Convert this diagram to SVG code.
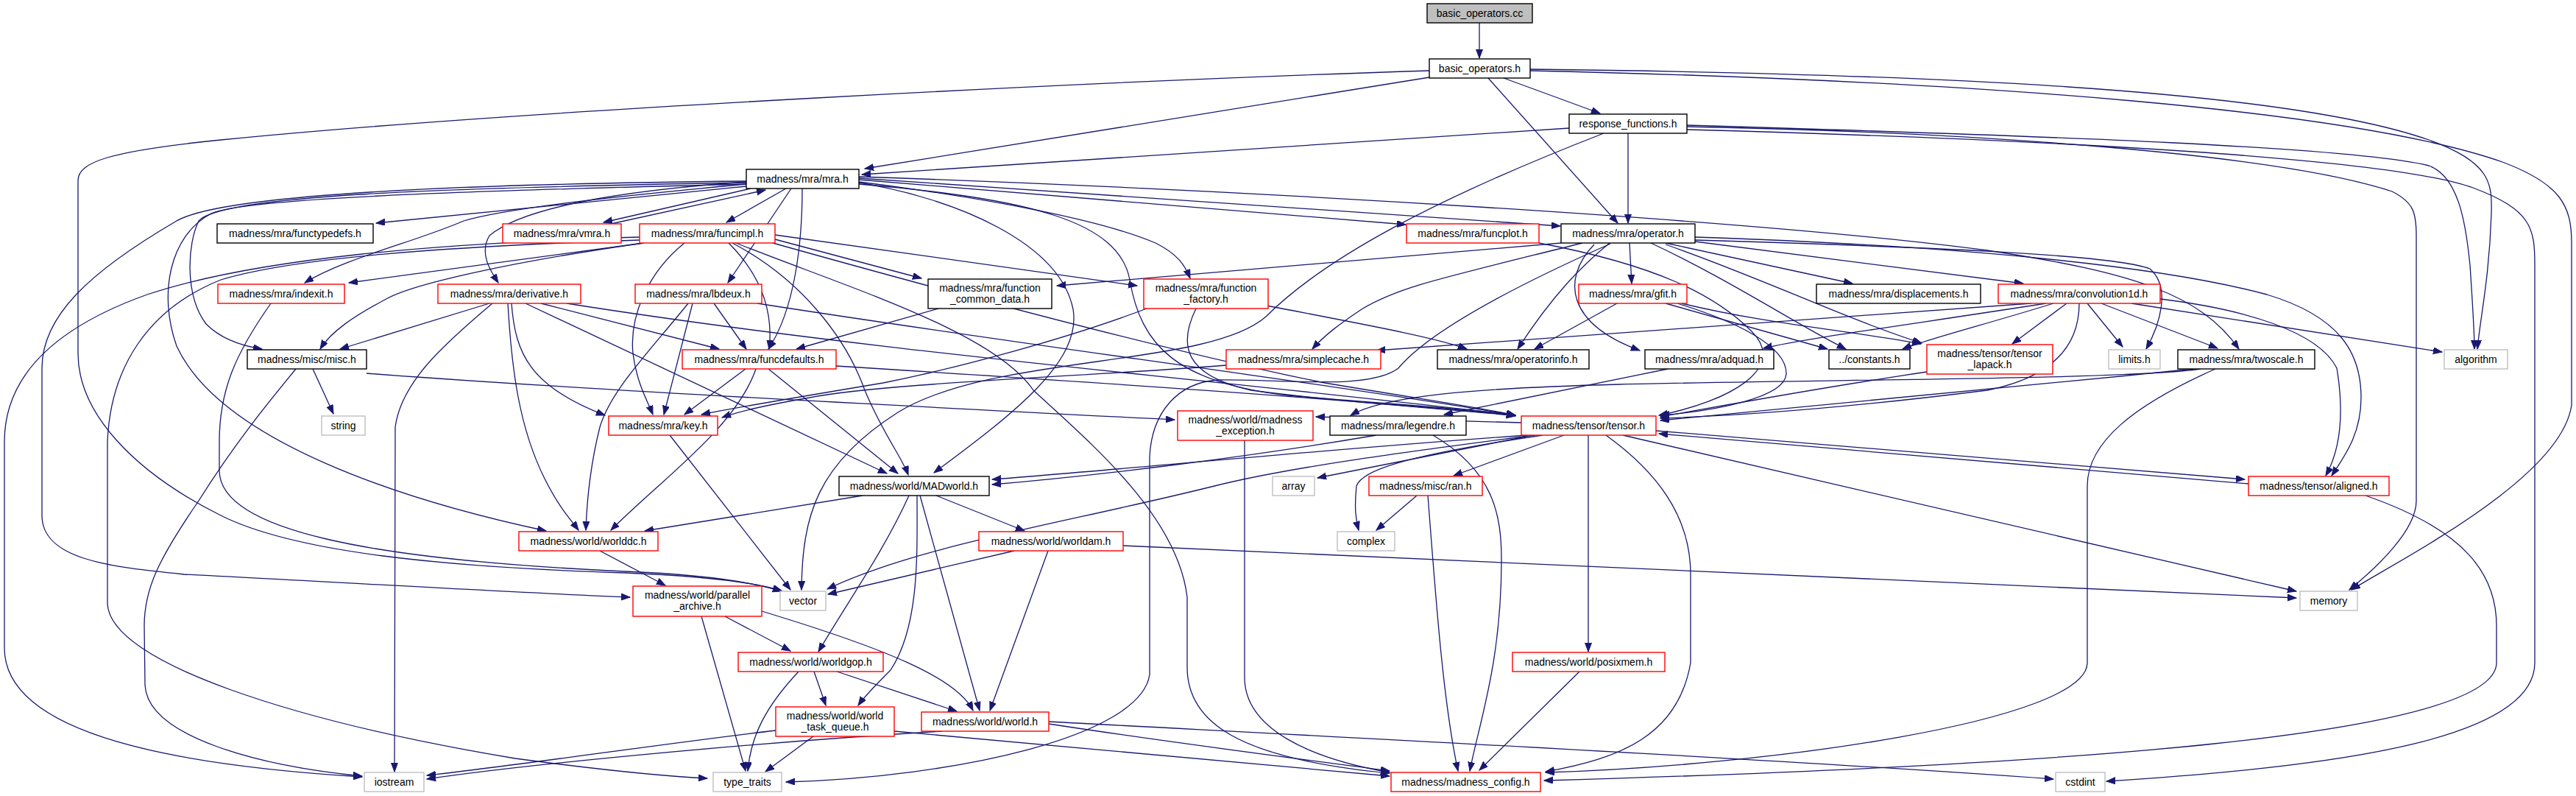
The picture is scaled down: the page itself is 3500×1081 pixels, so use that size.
<svg xmlns="http://www.w3.org/2000/svg" width="3500" height="1081" viewBox="0 0 3500 1081">
<style>
.n rect{fill:#fff;stroke:#000;stroke-width:1.4}
.r rect{fill:#fff;stroke:#ff0000;stroke-width:1.4}
.g rect{fill:#fff;stroke:#bfbfbf;stroke-width:1.4}
.root rect{fill:#bfbfbf;stroke:#000;stroke-width:1.4}
text{font-family:"Liberation Sans",Arial,sans-serif;font-size:14px;text-anchor:middle;fill:#000}
#edges path{fill:none;stroke:#191970;stroke-width:1.3;marker-end:url(#a)}
</style>
<defs>
<marker id="a" markerUnits="userSpaceOnUse" markerWidth="13" markerHeight="10" refX="12" refY="4.5" orient="auto"><path d="M0,0 L12,4.5 L0,9 z" fill="#191970" stroke="#191970" stroke-width="1"/></marker>
</defs>
<rect width="3500" height="1081" fill="#fff"/>
<g id="edges">
<path d="M2010,31 L2010,79"/>
<path d="M1942,105 L1175,229"/>
<path d="M2043,106 L2174,154"/>
<path d="M2022,106 L2198,303"/>
<path d="M1942,96 C1500,110 700,150 300,190 C150,205 106,220 106,245 L106,480 C106,560 180,640 300,700 C400,750 600,770 850,778 C950,782 1020,790 1062,802"/>
<path d="M2079,94 C2600,100 3100,120 3300,190 C3385,220 3386,250 3385,290 C3382,380 3370,430 3366,474"/>
<path d="M2079,96 C2700,110 3200,150 3400,220 C3480,250 3494,280 3494,330 L3494,550 C3480,650 3260,760 3195,801"/>
<path d="M2132,174 L1171,237"/>
<path d="M2212,181 L2212,303"/>
<path d="M2179,181 C1950,270 1800,350 1720,430 C1640,500 1350,480 1220,560 C1110,630 1090,700 1089,801"/>
<path d="M2292,172 C2700,180 3100,210 3250,260 C3280,275 3283,290 3283,320 L3283,680 C3283,720 3230,770 3192,801"/>
<path d="M2292,170 C2800,185 3200,200 3300,225 C3340,240 3350,300 3356,360 C3360,420 3362,450 3362,474"/>
<path d="M2292,176 C2800,190 3250,215 3360,255 C3440,285 3444,310 3444,360 L3444,900 C3444,1000 3200,1040 2862,1061"/>
<path d="M1014,253 L511,303"/>
<path d="M1020,256 L820,302"/>
<path d="M830,304 L1040,258"/>
<path d="M1068,256 L987,302"/>
<path d="M1014,250 C800,270 680,285 630,300 C560,330 470,350 414,384"/>
<path d="M1014,247 C800,262 700,290 665,320 C650,345 668,370 677,384"/>
<path d="M1075,256 L989,384"/>
<path d="M1014,248 C600,255 300,265 270,300 C255,330 250,400 280,440 C300,460 330,470 356,474"/>
<path d="M1090,256 C1090,330 1080,420 1044,474"/>
<path d="M1167,247 C1350,270 1500,300 1570,330 C1600,345 1610,360 1617,378"/>
<path d="M1167,244 L1910,305"/>
<path d="M1167,242 L2120,307"/>
<path d="M1167,240 C1700,258 2400,300 2700,340 C2900,370 2990,400 3042,474"/>
<path d="M1167,248 C1300,270 1440,330 1458,420 C1470,490 1380,560 1269,642"/>
<path d="M1014,250 C600,260 330,270 287,290 C230,320 215,400 240,470 C300,600 550,680 742,721"/>
<path d="M1014,246 C600,250 300,265 240,300 C120,370 57,430 57,500 L57,700 C57,760 150,770 250,780 C450,790 700,805 856,811"/>
<path d="M1167,250 C1400,270 1520,300 1535,380 C1550,470 1600,520 1750,537 C1900,550 2000,555 2059,564"/>
<path d="M2990,501 C2900,515 2500,515 2200,522 C2000,527 1880,538 1835,564"/>
<path d="M2266,501 L1962,563"/>
<path d="M2980,501 C2700,530 2400,555 2256,571"/>
<path d="M3010,501 C2900,550 2836,600 2836,660 L2836,900 C2836,980 2400,1040 2100,1049"/>
<path d="M2825,412 C2825,460 2800,510 2700,530 C2500,555 2350,565 2256,568"/>
<path d="M2618,505 C2450,530 2320,555 2256,566"/>
<path d="M3055,657 L2254,589"/>
<path d="M2250,585 L3050,651"/>
<path d="M2279,412 C2360,437 2427,470 2427,507 C2427,540 2330,558 2256,564"/>
<path d="M2197,412 L2085,474"/>
<path d="M2263,412 L2483,474"/>
<path d="M2285,412 C2400,440 2520,450 2610,467"/>
<path d="M2214,330 L2217,385"/>
<path d="M2263,330 L2517,385"/>
<path d="M2303,328 L2749,385"/>
<path d="M2121,330 L1436,388"/>
<path d="M2150,330 C1950,380 1900,390 1850,420 C1820,440 1800,455 1783,474"/>
<path d="M2187,330 C2150,360 2110,400 2062,474"/>
<path d="M2166,332 C2120,380 2130,440 2228,476"/>
<path d="M2243,330 C2350,380 2440,440 2508,474"/>
<path d="M2263,332 C2400,380 2500,430 2611,466"/>
<path d="M2303,326 C2600,335 2870,345 2921,365 C2950,390 2935,440 2916,474"/>
<path d="M2303,322 C2700,335 2950,365 3080,400 C3180,430 3208,480 3208,540 C3208,590 3185,620 3168,646"/>
<path d="M2935,406 C3050,420 3150,450 3175,500 C3185,560 3180,610 3160,646"/>
<path d="M2760,412 L1870,476"/>
<path d="M2780,412 C2600,440 2450,460 2396,473"/>
<path d="M2790,412 C2700,440 2620,460 2585,474"/>
<path d="M2808,412 L2734,467"/>
<path d="M2836,412 L2884,471"/>
<path d="M2855,412 L3013,473"/>
<path d="M2896,412 L3318,478"/>
<path d="M1275,419 L1082,474"/>
<path d="M1721,415 C1850,440 1950,458 1993,474"/>
<path d="M2091,330 C2250,360 2330,400 2380,450 C2430,500 2350,545 2254,564"/>
<path d="M970,412 L1014,474"/>
<path d="M941,412 L902,563"/>
<path d="M935,412 C880,480 830,530 815,580 C800,640 797,690 796,720"/>
<path d="M1029,412 C1400,470 1800,520 2059,564"/>
<path d="M875,330 L474,384"/>
<path d="M874,330 C700,355 560,385 523,407 C480,430 450,450 435,474"/>
<path d="M869,322 C600,330 350,350 200,400 C60,450 6,520 6,600 L6,880 C6,1000 250,1040 492,1055"/>
<path d="M869,326 C600,335 400,350 300,380 C200,420 150,500 146,600 L146,820 C150,900 400,980 700,1030 C850,1050 920,1055 961,1057"/>
<path d="M1053,325 L1252,378"/>
<path d="M1053,319 L1545,388"/>
<path d="M990,330 C1040,380 1050,430 1045,474"/>
<path d="M995,330 C1090,380 1150,460 1175,530 C1200,590 1225,620 1234,645"/>
<path d="M930,330 C880,370 855,430 860,480 C865,520 880,545 887,563"/>
<path d="M1050,330 C1300,400 1600,480 1800,520 C1950,545 2020,555 2059,564"/>
<path d="M1000,330 C1150,390 1350,450 1404,530 C1480,600 1600,700 1613,811 L1613,906 C1613,980 1680,1030 1888,1050"/>
<path d="M2188,331 C2100,370 1950,440 1900,500 C1860,530 1750,515 1654,516 C1600,520 1565,560 1562,620 L1562,916 C1550,1000 1300,1055 1068,1062"/>
<path d="M665,412 L462,474"/>
<path d="M669,412 C600,470 545,520 537,580 L536,1048"/>
<path d="M690,412 C695,500 705,580 740,650 C760,690 775,705 786,720"/>
<path d="M695,412 C700,480 720,525 822,564"/>
<path d="M714,412 L1205,643"/>
<path d="M735,412 L977,474"/>
<path d="M770,412 C1200,480 1700,520 2059,564"/>
<path d="M1013,501 L930,563"/>
<path d="M1044,501 L1220,643"/>
<path d="M1027,501 C1000,580 900,650 830,720"/>
<path d="M1136,497 C1500,520 1800,540 2059,564"/>
<path d="M425,501 L453,562"/>
<path d="M402,501 C370,540 320,600 270,680 C215,760 196,800 196,850 L197,930 C200,1000 350,1040 492,1054"/>
<path d="M498,507 C800,530 1300,555 1596,570"/>
<path d="M368,412 C320,480 298,530 298,600 L298,640 C300,720 500,760 850,776 C950,780 1020,790 1062,803"/>
<path d="M910,591 L1074,801"/>
<path d="M2085,591 C1900,615 1750,635 1650,660 C1450,710 1250,740 1124,800"/>
<path d="M2075,591 C1800,610 1500,640 1348,651"/>
<path d="M1870,591 C1700,620 1500,645 1348,658"/>
<path d="M2073,593 L1790,649"/>
<path d="M2096,591 C1900,620 1850,640 1843,660 C1840,690 1842,705 1846,720"/>
<path d="M2125,591 L1975,646"/>
<path d="M2158,591 L2158,885"/>
<path d="M2182,591 C2250,640 2297,700 2297,780 L2297,900 C2280,1000 2200,1030 2100,1048"/>
<path d="M2205,591 L3120,803"/>
<path d="M2067,574 L1788,566"/>
<path d="M1925,673 L1870,720"/>
<path d="M1940,673 C1950,800 1960,950 1981,1047"/>
<path d="M1947,591 C2030,640 2040,700 2040,760 C2040,900 2010,980 1997,1047"/>
<path d="M2146,912 L2010,1046"/>
<path d="M1691,598 L1691,920 C1691,990 1780,1030 1888,1049"/>
<path d="M3214,673 C3350,720 3392,780 3392,850 L3392,900 C3392,1000 2800,1040 2098,1060"/>
<path d="M1425,983 C1600,1010 1800,1035 1888,1047"/>
<path d="M1425,980 C1800,1000 2400,1030 2790,1058"/>
<path d="M1280,993 C1000,1010 700,1040 580,1058"/>
<path d="M1054,992 C900,1010 700,1040 580,1053"/>
<path d="M1105,1000 L1040,1048"/>
<path d="M1215,993 C1500,1020 1750,1040 1888,1054"/>
<path d="M1172,673 L876,721"/>
<path d="M1272,673 L1392,721"/>
<path d="M1235,673 C1200,750 1150,820 1112,885"/>
<path d="M1246,673 C1246,750 1250,850 1210,910 C1190,930 1175,945 1166,958"/>
<path d="M1250,673 L1331,965"/>
<path d="M1378,748 L1125,807"/>
<path d="M1424,748 L1345,965"/>
<path d="M1526,741 L3120,812"/>
<path d="M815,748 L904,795"/>
<path d="M985,837 L1074,884"/>
<path d="M1035,830 C1200,880 1300,920 1322,965"/>
<path d="M953,837 L1013,1047"/>
<path d="M1106,912 L1122,958"/>
<path d="M1137,912 L1300,966"/>
<path d="M1085,912 C1040,960 1020,1000 1016,1047"/>
<path d="M1666,496 C1500,510 1200,520 1100,540 C1030,552 1000,560 981,567"/>
<path d="M1558,419 C1450,460 1300,500 1200,520 C1050,545 990,555 953,563"/>
<path d="M1625,419 C1600,470 1610,510 1700,530 C1850,550 1980,555 2059,565"/>
</g>
<g id="n_cc" class="root"><rect x="1939" y="5" width="143" height="26"/><text x="2010.5" y="23">basic_operators.cc</text></g>
<g id="n_boh" class="n"><rect x="1942" y="80" width="137" height="26"/><text x="2010.5" y="98">basic_operators.h</text></g>
<g id="n_resp" class="n"><rect x="2132" y="155" width="160" height="26"/><text x="2212" y="173">response_functions.h</text></g>
<g id="n_mra" class="n"><rect x="1014" y="230" width="153" height="26"/><text x="1090.5" y="248">madness/mra/mra.h</text></g>
<g id="n_op" class="n"><rect x="2121" y="304" width="182" height="26"/><text x="2212" y="322">madness/mra/operator.h</text></g>
<g id="n_fplot" class="r"><rect x="1911" y="304" width="180" height="26"/><text x="2001" y="322">madness/mra/funcplot.h</text></g>
<g id="n_ftd" class="n"><rect x="295" y="304" width="212" height="26"/><text x="401" y="322">madness/mra/functypedefs.h</text></g>
<g id="n_vmra" class="r"><rect x="683" y="304" width="161" height="26"/><text x="763.5" y="322">madness/mra/vmra.h</text></g>
<g id="n_fimpl" class="r"><rect x="869" y="304" width="184" height="26"/><text x="961" y="322">madness/mra/funcimpl.h</text></g>
<g id="n_idx" class="r"><rect x="296" y="386" width="172" height="26"/><text x="382" y="404">madness/mra/indexit.h</text></g>
<g id="n_deriv" class="r"><rect x="595" y="386" width="194" height="26"/><text x="692" y="404">madness/mra/derivative.h</text></g>
<g id="n_lbd" class="r"><rect x="863" y="386" width="172" height="26"/><text x="949" y="404">madness/mra/lbdeux.h</text></g>
<g id="n_fcd" class="n"><rect x="1261" y="379" width="168" height="40"/><text x="1345" y="396">madness/mra/function</text><text x="1345" y="411">_common_data.h</text></g>
<g id="n_ffac" class="r"><rect x="1554" y="379" width="169" height="40"/><text x="1638.5" y="396">madness/mra/function</text><text x="1638.5" y="411">_factory.h</text></g>
<g id="n_gfit" class="r"><rect x="2145" y="386" width="147" height="26"/><text x="2218.5" y="404">madness/mra/gfit.h</text></g>
<g id="n_disp" class="n"><rect x="2468" y="386" width="223" height="26"/><text x="2579.5" y="404">madness/mra/displacements.h</text></g>
<g id="n_conv" class="r"><rect x="2715" y="386" width="220" height="26"/><text x="2825" y="404">madness/mra/convolution1d.h</text></g>
<g id="n_misc" class="n"><rect x="336" y="475" width="162" height="26"/><text x="417" y="493">madness/misc/misc.h</text></g>
<g id="n_fdef" class="r"><rect x="927" y="475" width="209" height="26"/><text x="1031.5" y="493">madness/mra/funcdefaults.h</text></g>
<g id="n_scache" class="r"><rect x="1666" y="475" width="210" height="26"/><text x="1771" y="493">madness/mra/simplecache.h</text></g>
<g id="n_opinfo" class="n"><rect x="1953" y="475" width="206" height="26"/><text x="2056" y="493">madness/mra/operatorinfo.h</text></g>
<g id="n_adq" class="n"><rect x="2235" y="475" width="175" height="26"/><text x="2322.5" y="493">madness/mra/adquad.h</text></g>
<g id="n_const" class="n"><rect x="2485" y="475" width="110" height="26"/><text x="2540" y="493">../constants.h</text></g>
<g id="n_tlap" class="r"><rect x="2618" y="468" width="171" height="40"/><text x="2703.5" y="485">madness/tensor/tensor</text><text x="2703.5" y="500">_lapack.h</text></g>
<g id="n_lim" class="g"><rect x="2865" y="475" width="70" height="26"/><text x="2900" y="493">limits.h</text></g>
<g id="n_twos" class="n"><rect x="2959" y="475" width="186" height="26"/><text x="3052" y="493">madness/mra/twoscale.h</text></g>
<g id="n_alg" class="g"><rect x="3321" y="475" width="86" height="26"/><text x="3364" y="493">algorithm</text></g>
<g id="n_string" class="g"><rect x="437" y="565" width="59" height="26"/><text x="466.5" y="583">string</text></g>
<g id="n_key" class="r"><rect x="827" y="565" width="148" height="26"/><text x="901" y="583">madness/mra/key.h</text></g>
<g id="n_exc" class="r"><rect x="1600" y="558" width="184" height="40"/><text x="1692" y="575">madness/world/madness</text><text x="1692" y="590">_exception.h</text></g>
<g id="n_leg" class="n"><rect x="1807" y="565" width="185" height="26"/><text x="1899.5" y="583">madness/mra/legendre.h</text></g>
<g id="n_tensor" class="r"><rect x="2067" y="565" width="183" height="26"/><text x="2158.5" y="583">madness/tensor/tensor.h</text></g>
<g id="n_madw" class="n"><rect x="1140" y="647" width="204" height="26"/><text x="1242" y="665">madness/world/MADworld.h</text></g>
<g id="n_array" class="g"><rect x="1729" y="647" width="57" height="26"/><text x="1757.5" y="665">array</text></g>
<g id="n_ran" class="r"><rect x="1860" y="647" width="154" height="26"/><text x="1937" y="665">madness/misc/ran.h</text></g>
<g id="n_aligned" class="r"><rect x="3055" y="647" width="191" height="26"/><text x="3150.5" y="665">madness/tensor/aligned.h</text></g>
<g id="n_wdc" class="r"><rect x="705" y="722" width="189" height="26"/><text x="799.5" y="740">madness/world/worlddc.h</text></g>
<g id="n_wam" class="r"><rect x="1330" y="722" width="196" height="26"/><text x="1428" y="740">madness/world/worldam.h</text></g>
<g id="n_complex" class="g"><rect x="1817" y="722" width="78" height="26"/><text x="1856" y="740">complex</text></g>
<g id="n_par" class="r"><rect x="860" y="796" width="175" height="41"/><text x="947.5" y="813">madness/world/parallel</text><text x="947.5" y="828">_archive.h</text></g>
<g id="n_vector" class="g"><rect x="1060" y="803" width="62" height="26"/><text x="1091" y="821">vector</text></g>
<g id="n_memory" class="g"><rect x="3125" y="803" width="78" height="26"/><text x="3164" y="821">memory</text></g>
<g id="n_wgop" class="r"><rect x="1003" y="886" width="197" height="26"/><text x="1101.5" y="904">madness/world/worldgop.h</text></g>
<g id="n_posix" class="r"><rect x="2055" y="886" width="207" height="26"/><text x="2158.5" y="904">madness/world/posixmem.h</text></g>
<g id="n_wtq" class="r"><rect x="1054" y="960" width="161" height="40"/><text x="1134.5" y="977">madness/world/world</text><text x="1134.5" y="992">_task_queue.h</text></g>
<g id="n_world" class="r"><rect x="1252" y="967" width="173" height="26"/><text x="1338.5" y="985">madness/world/world.h</text></g>
<g id="n_iostream" class="g"><rect x="495" y="1049" width="81" height="26"/><text x="535.5" y="1067">iostream</text></g>
<g id="n_tt" class="g"><rect x="969" y="1049" width="93" height="26"/><text x="1015.5" y="1067">type_traits</text></g>
<g id="n_config" class="r"><rect x="1890" y="1049" width="203" height="26"/><text x="1991.5" y="1067">madness/madness_config.h</text></g>
<g id="n_cstdint" class="g"><rect x="2793" y="1049" width="67" height="26"/><text x="2826.5" y="1067">cstdint</text></g>
</svg>
